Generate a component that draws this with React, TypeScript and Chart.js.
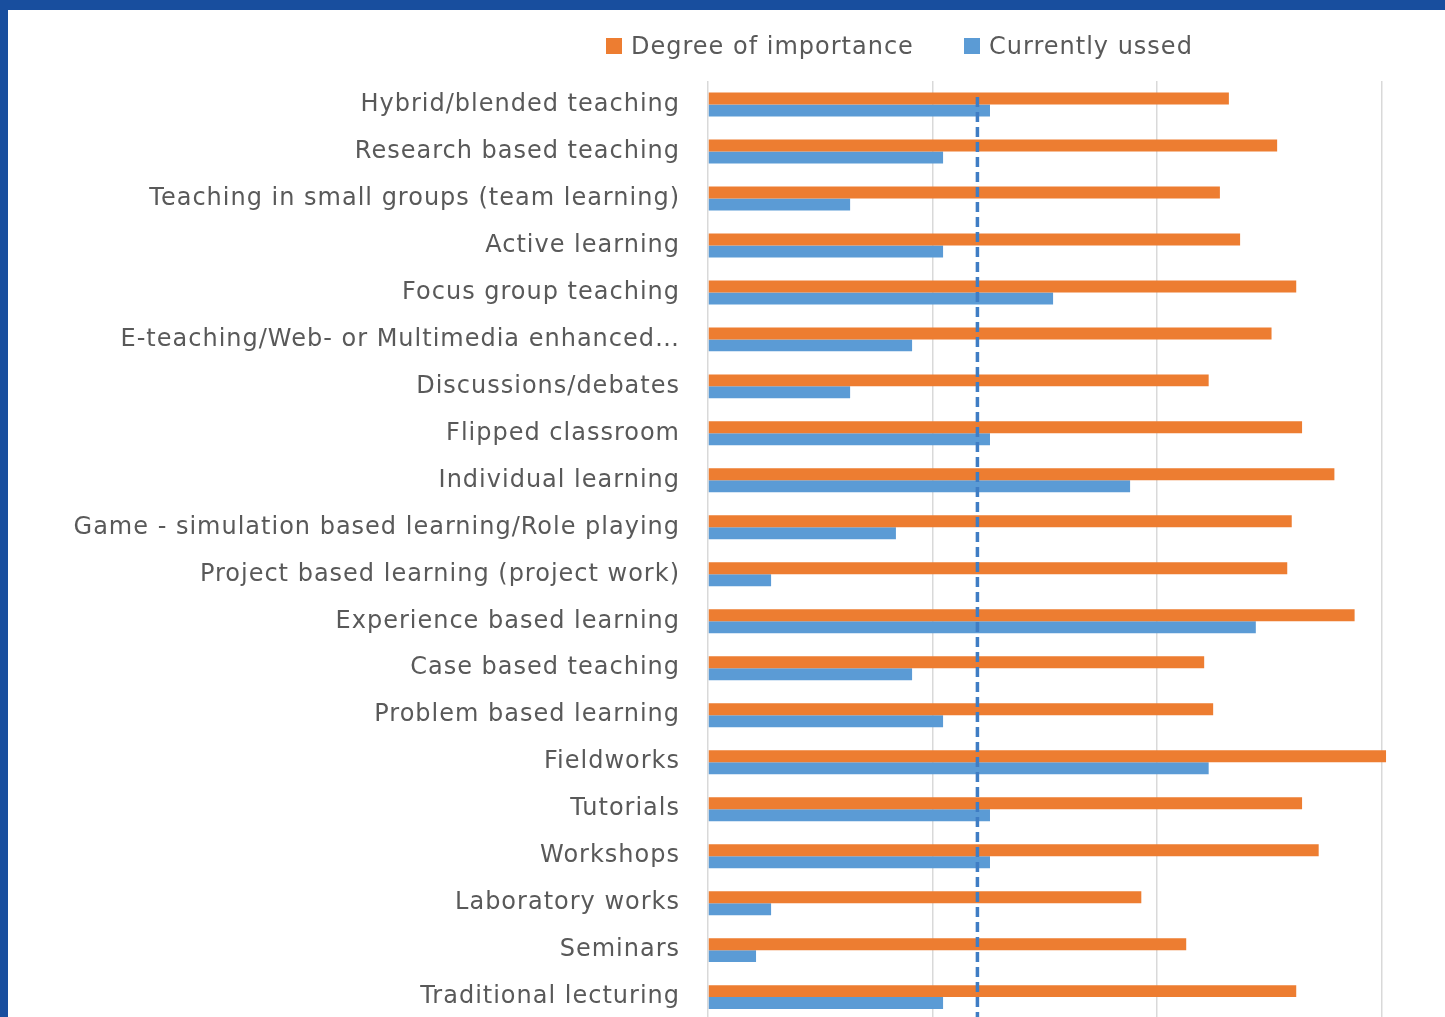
import React, { useEffect, useRef } from "react";
import { Chart, registerables } from "chart.js";

Chart.register(...registerables);

const categories: string[] = [
  "Hybrid/blended teaching",
  "Research based teaching",
  "Teaching in small groups (team learning)",
  "Active learning",
  "Focus group teaching",
  "E-teaching/Web- or Multimedia enhanced…",
  "Discussions/debates",
  "Flipped classroom",
  "Individual learning",
  "Game - simulation based learning/Role playing",
  "Project based learning (project work)",
  "Experience based learning",
  "Case based teaching",
  "Problem based learning",
  "Fieldworks",
  "Tutorials",
  "Workshops",
  "Laboratory works",
  "Seminars",
  "Traditional lecturing",
];

const importance: number[] = [
  2.32, 2.535, 2.28, 2.37, 2.62, 2.51, 2.23, 2.646, 2.79, 2.6,
  2.58, 2.88, 2.21, 2.25, 3.02, 2.646, 2.72, 1.93, 2.13, 2.62,
];

const currentlyUsed: number[] = [
  1.256, 1.047, 0.633, 1.047, 1.537, 0.909, 0.633, 1.256, 1.88, 0.837,
  0.281, 2.44, 0.909, 1.047, 2.23, 1.256, 1.256, 0.281, 0.214, 1.047,
];

const seriesNames: string[] = ["Degree of importance", "Currently ussed"];
const xGridValues: number[] = [0, 1, 2, 3];
const referenceValue = 1.2;
const xMin = 0;
const xMax = 3.1;

const ORANGE = "#ED7D31";
const BLUE = "#5B9BD5";
const FRAME = "#184E9E";
const TEXT = "#595959";
const FONT = "'DejaVu Sans', sans-serif";
const FONT_SIZE = 24;
const LETTER_SPACING = "1px";

const refLinePlugin = {
  id: "refLine",
  afterDatasetsDraw(chart: any) {
    const { ctx, chartArea, scales } = chart;
    const x = scales.x.getPixelForValue(referenceValue);
    ctx.save();
    ctx.strokeStyle = "#3F7DC4";
    ctx.lineWidth = 3.5;
    ctx.setLineDash([10, 5]);
    ctx.beginPath();
    ctx.moveTo(x, chartArea.top + 16);
    ctx.lineTo(x, chartArea.bottom);
    ctx.stroke();
    ctx.restore();
  },
};

const spacingPlugin = {
  id: "letterSpacing",
  beforeUpdate(chart: any) {
    (chart.ctx as any).letterSpacing = LETTER_SPACING;
  },
  beforeDraw(chart: any) {
    (chart.ctx as any).letterSpacing = LETTER_SPACING;
  },
};

export default function App() {
  const ref = useRef<HTMLCanvasElement>(null);

  useEffect(() => {
    if (!ref.current) return;
    const chart = new Chart(ref.current, {
      type: "bar",
      data: {
        labels: categories,
        datasets: [
          {
            label: seriesNames[0],
            data: importance,
            backgroundColor: ORANGE,
            barPercentage: 1,
            categoryPercentage: 0.51,
          },
          {
            label: seriesNames[1],
            data: currentlyUsed,
            backgroundColor: BLUE,
            barPercentage: 1,
            categoryPercentage: 0.51,
          },
        ],
      },
      options: {
        indexAxis: "y",
        animation: false,
        responsive: false,
        layout: { padding: { top: 71, right: 41, left: 0, bottom: 0 } },
        plugins: {
          legend: { display: false },
          tooltip: { enabled: false },
        },
        scales: {
          x: {
            min: xMin,
            max: xMax,
            ticks: { display: false },
            grid: { color: "#D9D9D9", lineWidth: 1.5, drawTicks: false },
            border: { display: false },
            afterBuildTicks: (scale: any) => {
              scale.ticks = xGridValues.map((v) => ({ value: v }));
            },
            afterFit: (scale: any) => {
              scale.height = 0;
            },
          },
          y: {
            grid: { display: false, drawTicks: false },
            border: { display: false },
            ticks: {
              color: TEXT,
              padding: 28,
              autoSkip: false,
              font: { family: FONT, size: FONT_SIZE },
            },
            afterFit: (scale: any) => {
              scale.width = 700;
            },
          },
        },
      },
      plugins: [spacingPlugin, refLinePlugin],
    });
    return () => chart.destroy();
  }, []);

  const legendItem = (left: number, color: string, text: string) => (
    <div
      style={{
        position: "absolute",
        left,
        top: 20,
        height: 32,
        display: "flex",
        alignItems: "center",
        whiteSpace: "nowrap",
      }}
    >
      <span style={{ width: 16, height: 16, background: color, display: "inline-block", marginRight: 9 }} />
      <span
        style={{
          fontFamily: FONT,
          fontSize: FONT_SIZE,
          color: TEXT,
          lineHeight: "32px",
          letterSpacing: LETTER_SPACING,
        }}
      >
        {text}
      </span>
    </div>
  );

  return (
    <div
      style={{
        position: "fixed",
        left: 0,
        top: 0,
        width: 1445,
        height: 1017,
        background: FRAME,
        overflow: "hidden",
      }}
    >
      <div
        style={{
          position: "absolute",
          left: 8,
          top: 10,
          width: 1437,
          height: 1007,
          background: "#FFFFFF",
          overflow: "hidden",
        }}
      >
        <canvas ref={ref} width={1437} height={1053} style={{ position: "absolute", left: 0, top: 0 }} />
        {legendItem(598, ORANGE, seriesNames[0])}
        {legendItem(956, BLUE, seriesNames[1])}
      </div>
    </div>
  );
}
